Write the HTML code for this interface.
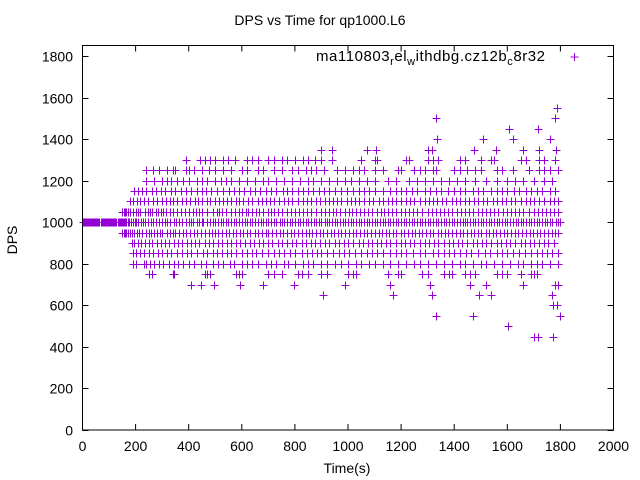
<!DOCTYPE html>
<html><head><meta charset="utf-8"><style>
body{margin:0;background:#fff;}
svg{display:block;font-family:"Liberation Sans",sans-serif;}
</style></head><body>
<svg id="chart" width="640" height="480">
<rect x="0" y="0" width="640" height="480" fill="#fff"/>
<text x="320" y="25" text-anchor="middle" font-size="14">DPS vs Time for qp1000.L6</text>
<text x="347" y="473" text-anchor="middle" font-size="14">Time(s)</text>
<text transform="translate(17,240) rotate(-90)" text-anchor="middle" font-size="14">DPS</text>
<g id="axes"></g>
<g id="points"></g>
<g>
<text x="316" y="61" font-size="15" textLength="229" lengthAdjust="spacing">ma110803<tspan font-size="11" dy="4">r</tspan><tspan dy="-4">el</tspan><tspan font-size="11" dy="4">w</tspan><tspan dy="-4">ithdbg.cz12b</tspan><tspan font-size="11" dy="4">c</tspan><tspan dy="-4">8r32</tspan></text>
<path d="M570.5,57 h8 M574.5,53 v8" stroke="#9400d3" stroke-width="1"/>
</g>
<rect x="82.5" y="45.5" width="531" height="384.5" fill="none" stroke="#000"/>
</svg>
<script>
const xTicks=[0,200,400,600,800,1000,1200,1400,1600,1800,2000];
const yTicks=[0,200,400,600,800,1000,1200,1400,1600,1800];
const L1000=[0,4,8,12,16,20,24,28,32,36,40,44,48,52,56,60,64,68,72,76,80,84,88,92,96,100,104,108,112,116,120,124,128,132,136,140,144,148,152,156,160,165,170,175,182,190,196,203,210,220,228,236,245,258,265,275,290,300,312,318,330,345,352,365,375,388,400,410,418,430,440,450,455,470,480,492,500,512,520,530,540,548,560,570,580,590,600,612,620,630,640,650,660,672,680,690,700,710,720,730,742,750,760,770,780,790,800,812,820,830,840,850,860,872,880,890,900,912,920,930,940,950,960,970,982,990,1000,1012,1020,1030,1040,1050,1060,1072,1080,1090,1100,1110,1120,1130,1140,1150,1160,1170,1182,1190,1200,1210,1220,1230,1240,1250,1260,1272,1280,1290,1300,1310,1320,1330,1340,1350,1362,1370,1380,1390,1400,1410,1420,1432,1440,1450,1460,1470,1480,1490,1500,1510,1520,1532,1540,1550,1560,1570,1580,1590,1600,1610,1620,1632,1640,1650,1660,1670,1680,1690,1700,1710,1720,1730,1742,1750,1760,1770,1782,1790,1800];
const L1050=[150,155,160,165,170,180,190,200,210,218,235,245,255,262,275,285,295,305,315,330,340,355,370,385,400,415,428,440,450,470,490,505,515,525,540,560,575,590,600,615,625,640,655,665,680,700,710,720,735,750,770,785,800,815,830,845,860,880,900,915,930,945,955,970,990,1005,1015,1030,1045,1060,1075,1090,1110,1125,1135,1150,1165,1180,1200,1215,1230,1245,1260,1280,1300,1315,1330,1345,1360,1375,1390,1410,1425,1440,1455,1470,1490,1505,1520,1535,1550,1565,1585,1600,1615,1630,1645,1660,1680,1700,1715,1730,1745,1760,1775,1790];
const L950=[150,155,160,165,170,178,186,195,205,212,225,240,250,258,270,282,292,300,318,330,342,350,365,378,390,405,420,432,445,460,475,488,500,512,525,540,552,565,580,595,605,620,632,648,660,675,690,700,715,728,742,756,770,785,798,810,825,840,852,865,880,895,905,920,935,948,962,975,990,1002,1018,1032,1045,1060,1072,1088,1100,1115,1128,1142,1155,1170,1182,1198,1210,1225,1240,1252,1268,1280,1295,1310,1322,1338,1350,1365,1378,1392,1405,1420,1435,1448,1462,1475,1490,1502,1518,1530,1545,1558,1572,1588,1600,1615,1628,1642,1655,1670,1685,1698,1712,1725,1740,1752,1768,1780,1792];
const L900=[185,195,210,222,235,250,262,280,295,310,325,345,360,375,395,410,425,440,460,475,490,510,525,545,560,580,595,612,630,645,665,680,700,715,735,750,770,790,805,825,840,860,875,895,915,930,950,965,985,1000,1020,1040,1055,1075,1090,1110,1125,1145,1160,1180,1200,1215,1235,1250,1270,1290,1305,1325,1340,1360,1380,1395,1415,1430,1450,1470,1485,1505,1520,1540,1560,1575,1595,1610,1630,1650,1665,1685,1700,1720,1740,1755,1775];
const L1100=[180,190,205,218,230,245,265,280,300,315,330,340,355,375,390,405,425,435,450,470,480,500,515,530,545,560,580,590,605,625,640,660,675,690,705,720,740,760,775,790,810,830,845,860,880,895,915,930,945,960,975,995,1010,1025,1040,1060,1080,1095,1115,1130,1150,1165,1180,1200,1220,1235,1250,1270,1290,1305,1320,1335,1355,1370,1390,1405,1420,1440,1455,1475,1490,1510,1525,1545,1560,1580,1595,1615,1630,1650,1670,1685,1700,1720,1740,1760,1775,1790];
const L850=[190,200,215,230,250,265,285,300,320,335,355,375,395,410,430,455,470,490,505,525,545,560,580,600,620,640,655,675,700,720,740,760,780,800,825,845,865,885,900,920,945,965,985,1005,1025,1050,1070,1090,1110,1130,1160,1180,1200,1220,1245,1270,1290,1320,1340,1360,1380,1400,1420,1445,1465,1490,1515,1535,1560,1580,1600,1620,1645,1665,1690,1710,1730,1750,1770,1790];
const L1150=[195,210,225,240,260,275,295,310,335,350,370,390,410,430,450,465,485,505,530,550,570,590,610,630,650,670,690,710,730,755,770,790,810,830,850,870,890,910,930,950,975,995,1020,1040,1060,1080,1100,1130,1160,1180,1200,1220,1240,1260,1290,1310,1330,1350,1375,1400,1420,1440,1470,1490,1510,1540,1560,1580,1600,1625,1645,1670,1690,1710,1730,1760,1780];
const L800=[190,200,230,240,255,270,290,305,325,345,360,380,400,420,445,465,490,510,530,555,570,600,620,640,660,690,710,730,760,775,800,830,850,870,900,920,950,975,1000,1030,1050,1080,1100,1130,1160,1190,1220,1250,1270,1300,1330,1360,1390,1420,1440,1470,1500,1520,1550,1580,1610,1640,1660,1690,1710,1730,1760,1790];
const L1200=[240,270,300,320,335,355,380,400,430,450,470,500,520,540,560,590,620,650,680,700,730,760,790,820,850,870,900,930,960,990,1010,1040,1070,1100,1150,1180,1230,1260,1290,1320,1350,1380,1410,1440,1480,1520,1560,1600,1630,1660,1700,1740,1770];
const L750=[250,262,340,345,460,470,480,580,590,600,700,720,750,810,825,850,900,920,1000,1020,1030,1150,1190,1200,1280,1300,1360,1380,1390,1440,1460,1480,1560,1580,1600,1650,1690,1700,1710];
const L1250=[240,265,290,320,340,350,390,400,420,450,475,500,530,560,600,620,660,680,720,750,790,810,840,860,880,910,960,990,1020,1040,1060,1100,1130,1190,1200,1250,1270,1290,1320,1330,1400,1420,1450,1480,1500,1560,1580,1620,1680,1720,1740,1760,1790];
const L700=[407,448,497,595,678,798,990,1160,1307,1458,1518,1661,1780,1790];
const L1300=[388,444,460,480,500,530,548,575,620,640,660,700,720,750,770,800,830,850,875,900,940,1050,1100,1110,1220,1230,1300,1320,1340,1420,1440,1500,1540,1550,1650,1670,1720,1740,1780];
const L1350=[900,938,1070,1107,1303,1318,1473,1556,1661,1721,1785];
const L650=[904,1168,1318,1492,1540,1770];
const L1400=[1337,1507,1620,1759];
const L1450=[1605,1717];
const L1500=[1333,1778];
const L1550=[1789];
const L600=[1774,1789];
const L550=[1333,1469,1797];
const L500=[1601];
const L450=[1699,1717,1774];
const seriesLevels=[1000,1050,950,900,1100,850,1150,800,1200,750,1250,700,1300,1350,650,1400,1450,1500,1550,600,550,500,450];
const seriesTimes=[L1000,L1050,L950,L900,L1100,L850,L1150,L800,L1200,L750,L1250,L700,L1300,L1350,L650,L1400,L1450,L1500,L1550,L600,L550,L500,L450];

const NS="http://www.w3.org/2000/svg";
function xs(t){return 82.5+t*(531/2000);}
function ys(v){return 430-v*(374/1800);}
const axes=document.getElementById('axes');
const pts=document.getElementById('points');
xTicks.forEach(t=>{
  const x=xs(t);
  const p=document.createElementNS(NS,'path');
  p.setAttribute('d',`M${x},430 v-6 M${x},45.5 v6`);
  p.setAttribute('stroke','#000');
  
  
  axes.appendChild(p);
  const tx=document.createElementNS(NS,'text');
  tx.setAttribute('x',x);tx.setAttribute('y',451);
  tx.setAttribute('text-anchor','middle');tx.setAttribute('font-size','14');
  tx.textContent=t;
  
  
  axes.appendChild(tx);
});
yTicks.forEach(v=>{
  const y=Math.round(ys(v))+0.5;
  const p=document.createElementNS(NS,'path');
  p.setAttribute('d',`M82.5,${y} h6 M613.5,${y} h-6`);
  p.setAttribute('stroke','#000');
  
  
  axes.appendChild(p);
  const tx=document.createElementNS(NS,'text');
  tx.setAttribute('x',73);tx.setAttribute('y',y+5);
  tx.setAttribute('text-anchor','end');tx.setAttribute('font-size','14');
  tx.textContent=v;
  
  
  axes.appendChild(tx);
});
let d='';
seriesLevels.forEach((lv,i)=>{
  const y=Math.round(ys(lv))+0.5;
  seriesTimes[i].forEach(t=>{
    const x=Math.round(xs(t))+0.5;
    d+=`M${x-4},${y}h8M${x},${y-4}v8`;
  });
});
const path=document.createElementNS(NS,'path');
path.setAttribute('d',d);
path.setAttribute('stroke','#9400d3');
path.setAttribute('stroke-width','1');
path.setAttribute('fill','none');


pts.appendChild(path);
</script>
</body></html>
